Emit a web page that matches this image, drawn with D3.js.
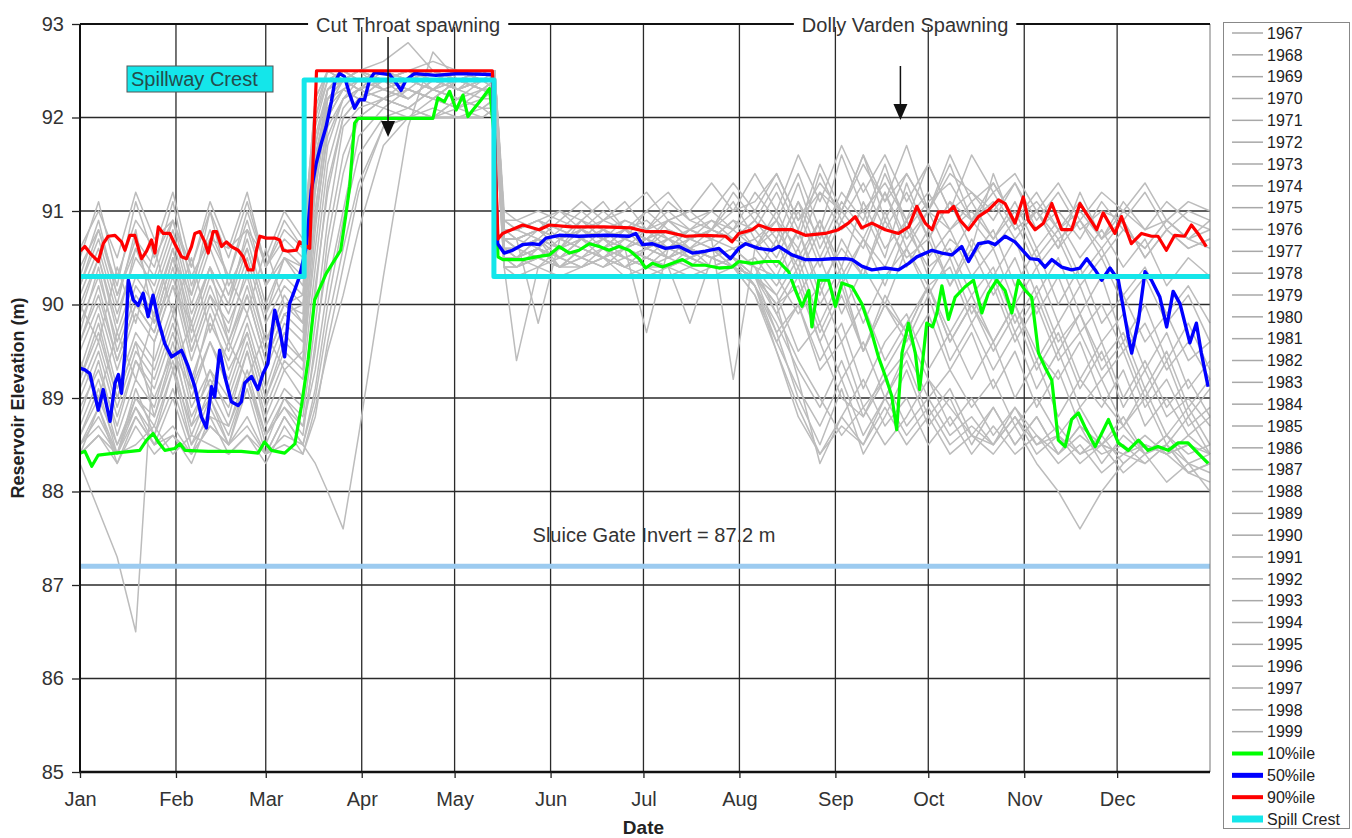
<!DOCTYPE html>
<html>
<head>
<meta charset="UTF-8">
<title>Reservoir Elevation</title>
<script src="https://d3js.org/d3.v7.min.js"></script>
<style>
  body { margin: 0; background: #fff; }
  svg { font-family: Arial, "Liberation Sans", sans-serif; }
  .axis text { font-size: 20px; fill: #333; }
  .axis path { display: none; }
  .axis line { stroke: #222; stroke-width: 1.3; }
  .legend text { font-size: 16px; fill: #222; }
</style>
</head>
<body>
<div id="chart"></div>
<script>

// ---- data ----
const years = [1967, 1968, 1969, 1970, 1971, 1972, 1973, 1974, 1975, 1976, 1977,
  1978, 1979, 1980, 1981, 1982, 1983, 1984, 1985, 1986, 1987, 1988, 1989, 1990,
  1991, 1992, 1993, 1994, 1995, 1996, 1997, 1998, 1999];

// day of year (0 = Jan 1) of the sampled points of every year
const gridDays = [0, 6, 12, 18, 24, 30, 36, 42, 48, 54, 60, 66, 72,
  76, 80, 85, 90, 98, 106, 114, 122, 130, 134,
  137,
  141, 148, 155, 162, 169, 176, 183, 190, 197, 204, 211,
  218, 225, 232, 239, 246, 253, 260, 267, 274, 281, 288,
  295, 302, 309, 316, 323, 330, 337, 344, 351, 358, 365];

// reservoir elevation (m) per year, one value per grid day
const yearLevels = [
  [90.2,90.7,90.0,90.8,89.8,90.5,90.1,91.0,90.2,90.6,89.9,90.5,90.4, 91.4,92.1,92.4,92.3,92.5,92.4,92.3,92.5,92.4,92.4, 90.8, 90.7,90.8,90.6,90.9,90.7,90.8,90.6,90.9,90.7,90.8,91.1, 90.7,90.9,90.6,91.2,90.8,91.0,90.5,91.3,90.7,91.1,90.6, 91.4,90.8,91.0,90.6,91.2,90.7,90.9,90.5,90.8,90.6,90.7],
  [88.3,87.8,87.3,86.5,89.6,90.2,89.8,90.4,89.6,90.1,89.4,89.9,90.0, 90.9,91.8,92.2,92.4,92.3,92.4,92.5,92.3,92.4,92.4, 90.6, 90.5,90.7,90.4,90.6,90.5,90.7,90.6,90.5,90.7,90.6,90.5, 90.4,90.3,89.9,90.2,89.6,90.0,89.4,89.8,90.2,89.7,90.1, 89.6,90.0,89.5,89.2,89.6,89.0,88.7,89.1,88.6,88.9,88.5],
  [88.5,88.9,88.4,89.1,88.6,89.3,88.7,89.0,88.5,89.2,88.6,88.9,88.6, 89.6,90.5,91.4,92.0,92.2,92.1,92.3,92.2,92.4,92.3, 90.5, 90.4,90.6,90.5,90.7,90.6,90.5,90.4,90.6,90.5,90.4,90.5, 90.3,90.1,89.5,89.8,89.2,89.6,89.0,89.5,89.9,89.3,89.7, 89.1,89.5,88.9,89.3,88.7,88.5,88.8,88.4,88.6,88.3,88.4],
  [90.6,91.0,90.5,91.2,90.7,90.9,90.4,91.1,90.6,90.8,90.5,91.0,90.7, 92.0,92.5,92.4,92.5,92.4,92.5,92.5,92.4,92.5,92.5, 90.9, 90.8,90.9,90.7,90.8,91.0,90.8,90.9,90.7,90.8,91.0,90.8, 91.2,90.9,91.4,90.8,91.6,91.0,91.3,90.9,91.5,91.0,91.2, 90.9,91.3,90.8,91.0,90.7,91.1,90.8,90.6,90.9,90.7,90.8],
  [89.2,89.8,89.0,89.6,88.8,89.5,89.1,89.9,89.3,89.7,89.0,89.6,89.4, 90.6,91.7,92.2,92.3,92.4,92.2,92.4,92.3,92.5,92.4, 90.6, 90.6,90.7,90.5,90.7,90.6,90.8,90.6,90.7,90.5,90.6,90.4, 90.5,90.2,90.6,90.0,90.4,89.8,90.3,90.6,90.1,90.5,89.9, 90.3,89.7,90.1,89.5,89.9,89.3,89.6,89.0,89.4,88.8,89.1],
  [88.4,88.6,88.4,88.5,88.7,88.4,88.6,88.5,88.4,88.6,88.4,88.5,88.4, 88.9,89.5,90.1,90.8,91.7,92.0,92.0,92.1,92.0,92.1, 90.4, 90.4,90.5,90.4,90.5,90.4,90.5,90.4,90.4,90.5,90.4,90.4, 90.3,90.0,90.2,89.6,89.0,88.8,89.3,89.7,89.2,88.9,88.6, 88.5,88.8,88.5,88.6,88.4,88.5,88.4,88.5,88.4,88.5,88.3],
  [89.6,90.2,89.4,90.0,89.7,90.4,89.5,90.1,89.8,90.3,89.6,90.0,89.9, 91.8,92.3,92.4,92.5,92.3,92.4,92.5,92.4,92.3,92.4, 90.7, 90.7,90.8,90.7,90.9,90.8,90.7,91.0,90.8,90.7,90.9,90.8, 91.0,90.7,91.3,90.6,91.1,90.8,91.4,90.9,91.2,90.8,91.0, 90.7,91.1,90.6,90.9,90.5,90.8,90.4,90.7,90.2,90.5,90.3],
  [88.8,89.4,88.6,89.2,88.9,89.6,88.7,89.3,88.8,89.5,88.7,89.1,88.9, 90.2,91.2,92.0,92.2,92.3,92.2,92.4,92.3,92.2,92.3, 90.6, 90.5,90.6,90.5,90.7,90.6,90.5,90.6,90.5,90.6,90.4,90.5, 90.2,89.6,90.0,89.4,89.8,89.1,89.6,89.9,89.3,89.7,89.2, 89.6,89.0,89.4,88.8,89.2,88.9,89.3,88.7,89.0,88.6,88.8],
  [90.0,90.5,89.8,90.6,90.1,90.7,89.9,90.4,90.0,90.8,90.2,90.5,90.3, 91.9,92.4,92.5,92.4,92.5,92.5,92.4,92.5,92.5,92.4, 90.8, 90.8,90.9,90.8,90.7,90.9,90.8,90.7,90.9,90.8,90.9,90.7, 90.9,90.6,91.1,90.7,91.2,90.9,91.5,90.8,91.1,91.3,90.9, 91.1,90.7,91.0,90.6,90.9,90.5,90.8,90.6,90.9,90.7,90.6],
  [89.4,89.0,89.7,89.2,89.9,89.3,89.8,89.1,89.6,89.2,89.7,89.3,89.5, 91.0,92.0,92.3,92.2,92.4,92.3,92.2,92.4,92.3,92.3, 90.7, 90.6,90.7,90.6,90.8,90.7,90.6,90.7,90.6,90.8,90.7,90.6, 90.7,90.4,90.8,90.2,90.6,90.3,90.9,90.5,90.7,90.2,90.6, 90.1,90.5,89.9,90.3,89.7,90.0,89.5,89.8,89.3,89.6,89.2],
  [88.6,89.0,88.5,88.9,88.6,89.1,88.5,88.8,88.7,89.2,88.6,88.9,88.7, 89.3,90.2,91.0,91.8,92.1,92.0,92.2,92.1,92.2,92.2, 90.5, 90.5,90.6,90.4,90.6,90.5,90.6,90.5,90.4,90.6,90.5,90.4, 90.3,89.7,90.0,89.3,89.6,88.9,89.2,88.7,89.0,88.6,88.8, 88.5,88.9,88.6,88.4,88.7,88.5,88.4,88.6,88.4,88.5,88.4],
  [90.3,90.9,90.1,90.7,90.4,91.1,90.2,90.8,90.3,91.0,90.4,90.7,90.5, 92.1,92.5,92.4,92.5,92.5,92.4,92.5,92.5,92.5,92.5, 90.9, 90.8,90.9,91.0,90.8,90.9,91.1,90.8,90.9,91.0,90.8,91.2, 90.9,91.3,90.8,91.5,91.0,91.6,90.9,91.4,91.0,91.6,91.1, 91.3,90.9,91.2,90.8,91.1,90.7,91.0,90.8,91.1,90.9,90.8],
  [89.0,89.5,88.8,89.4,89.1,89.7,88.9,89.3,89.0,89.6,88.9,89.4,89.2, 90.4,91.5,92.1,92.3,92.2,92.3,92.2,92.4,92.3,92.3, 90.6, 90.6,90.5,90.7,90.6,90.5,90.6,90.7,90.5,90.6,90.5,90.6, 90.4,89.9,90.3,89.6,90.1,89.5,90.0,89.7,90.2,89.6,90.0, 89.5,89.9,89.3,89.7,89.1,89.5,88.9,89.3,88.8,89.0,88.7],
  [89.8,90.3,89.6,90.2,89.9,90.6,89.7,90.3,89.9,90.5,89.8,90.2,90.0, 91.6,92.2,92.4,92.3,92.5,92.4,92.3,92.5,92.4,92.4, 90.7, 90.7,90.6,90.8,90.7,90.6,90.8,90.7,90.6,90.8,90.7,90.9, 90.6,91.0,90.5,90.9,90.4,91.1,90.6,90.9,90.3,90.7,90.5, 90.8,90.2,90.6,90.0,90.4,89.8,90.1,89.6,89.9,89.4,89.6],
  [88.5,88.7,88.4,88.8,88.5,88.6,88.4,88.7,88.5,88.8,88.4,88.6,88.5, 88.3,88.0,87.6,88.6,90.3,91.9,92.7,92.4,92.3,92.4, 90.5, 90.5,90.4,90.6,90.5,90.4,90.6,90.5,90.4,90.5,90.6,90.4, 90.2,89.8,89.3,88.9,89.4,88.8,89.2,89.5,89.0,89.3,88.9, 89.2,88.7,89.0,88.6,88.9,88.5,88.7,88.4,88.6,88.4,88.5],
  [90.4,90.8,90.2,91.1,90.5,90.9,90.3,90.7,90.6,91.2,90.4,90.8,90.6, 92.2,92.5,92.5,92.5,92.4,92.5,92.5,92.5,92.4,92.5, 91.0, 90.9,90.8,91.0,90.9,91.1,90.8,91.0,91.2,90.9,91.0,91.3, 91.0,91.4,90.9,91.2,91.0,91.5,91.1,91.7,91.0,91.4,91.2, 91.0,91.3,90.9,91.2,90.8,91.0,90.9,91.2,90.8,91.0,90.9],
  [89.3,89.9,89.1,89.7,89.4,90.0,89.2,89.8,89.4,89.9,89.3,89.8,89.6, 91.2,92.1,92.3,92.4,92.3,92.2,92.4,92.3,92.4,92.3, 90.6, 90.6,90.7,90.5,90.6,90.7,90.5,90.6,90.7,90.5,90.6,90.5, 90.3,90.7,90.1,90.5,89.9,90.4,90.0,90.6,90.2,90.4,89.8, 90.2,89.6,90.0,89.4,89.7,89.2,89.5,88.9,89.2,88.7,88.9],
  [88.7,89.2,88.5,89.0,88.8,89.4,88.6,89.1,88.7,89.3,88.6,89.0,88.8, 89.8,90.9,91.9,92.1,92.2,92.1,92.3,92.2,92.1,92.2, 90.5, 90.5,90.6,90.5,90.4,90.6,90.5,90.4,90.5,90.6,90.5,90.4, 90.1,89.6,89.1,88.7,89.2,88.6,89.0,89.4,88.8,89.1,88.6, 88.9,88.5,88.8,88.4,88.6,88.4,88.5,88.3,88.5,88.2,88.3],
  [90.1,90.6,89.9,90.5,90.2,90.8,90.0,90.6,90.1,90.7,90.0,90.5,90.2, 91.7,92.3,92.5,92.4,92.5,92.5,92.5,92.4,92.5,92.5, 90.8, 90.8,90.7,90.9,90.8,90.7,90.9,90.8,91.0,90.8,90.7,90.9, 90.8,91.2,90.7,91.4,90.9,91.3,90.8,91.2,90.7,91.1,90.9, 91.2,90.8,91.0,90.7,90.9,90.6,90.9,90.5,90.8,90.6,90.7],
  [89.5,90.0,89.3,89.9,89.6,90.2,89.4,90.0,89.5,90.1,89.4,89.9,89.7, 91.3,92.2,92.4,92.3,92.4,92.5,92.3,92.4,92.5,92.4, 90.7, 90.6,90.8,90.7,90.6,90.8,90.7,90.6,90.8,90.7,90.6,90.8, 90.6,90.9,90.3,90.8,90.2,90.7,90.4,90.9,90.5,90.8,90.3, 90.6,90.0,90.4,89.8,90.2,89.6,89.9,89.3,89.7,89.1,89.4],
  [88.4,88.9,88.3,88.8,88.5,89.0,88.4,88.7,88.5,89.1,88.4,88.8,88.5, 89.1,90.0,90.9,91.6,92.0,92.1,92.0,92.2,92.1,92.2, 90.4, 89.4,90.4,90.5,90.4,90.5,90.4,90.5,90.4,90.3,90.4,90.5, 90.2,89.5,88.9,88.4,88.8,89.2,88.7,89.0,88.5,88.8,88.4, 88.7,88.4,88.6,88.3,88.5,88.2,88.4,88.3,88.5,88.2,88.1],
  [90.0,89.6,90.4,89.8,90.6,89.9,90.5,89.7,90.3,89.9,90.6,90.0,90.1, 91.5,92.3,92.4,92.5,92.4,92.3,92.5,92.4,92.3,92.4, 90.8, 90.7,89.8,90.7,90.8,90.6,90.7,90.8,90.6,90.7,90.8,90.7, 90.9,90.6,91.1,90.5,91.0,90.7,91.2,90.6,91.0,90.8,91.1, 90.7,91.0,90.5,90.8,90.3,90.6,90.1,90.4,89.9,90.2,89.8],
  [89.1,89.6,88.9,89.5,89.2,89.8,89.0,89.6,89.1,89.7,89.0,89.5,89.3, 90.8,91.9,92.2,92.3,92.2,92.4,92.3,92.2,92.3,92.3, 90.6, 90.6,90.5,90.6,90.7,90.5,90.6,89.7,90.6,90.5,90.6,90.5, 90.3,90.0,90.4,89.7,90.2,89.5,90.0,89.6,90.1,89.4,89.8, 89.3,89.7,89.1,89.5,88.9,89.2,88.7,89.0,88.5,88.8,88.4],
  [90.5,91.1,90.3,90.9,90.6,91.2,90.4,91.0,90.5,91.1,90.4,90.9,90.6, 92.2,92.5,92.5,92.5,92.6,92.8,92.5,92.5,92.5,92.5, 90.9, 90.9,91.0,90.9,91.1,90.9,91.0,91.2,90.9,91.0,91.3,91.0, 91.4,91.0,91.6,91.1,91.7,91.2,91.6,91.1,91.5,91.0,91.6, 91.2,91.4,91.0,91.3,90.9,91.2,91.0,91.3,90.9,91.1,91.0],
  [88.6,89.1,88.4,89.0,88.7,89.3,88.5,89.0,88.6,89.2,88.5,89.0,88.7, 89.5,90.7,91.6,92.0,92.2,92.1,92.0,92.2,92.1,92.1, 90.5, 90.4,90.5,90.4,90.5,90.6,90.4,90.5,90.4,89.8,90.5,90.4, 90.3,89.9,89.4,89.0,88.6,88.9,88.5,88.8,89.2,88.7,89.0, 88.6,88.9,88.5,88.7,88.4,88.6,88.3,88.5,88.4,88.2,88.3],
  [89.7,90.4,89.5,90.1,89.8,90.5,89.6,90.2,89.7,90.4,89.6,90.1,89.8, 91.5,92.2,92.3,92.4,92.5,92.4,92.3,92.4,92.5,92.4, 90.7, 90.7,90.8,90.6,90.7,90.8,90.6,90.7,90.8,90.6,90.7,89.2, 90.6,90.8,90.4,90.9,90.3,90.7,90.2,90.8,90.4,90.6,90.1, 90.4,89.8,90.2,89.6,89.9,89.4,89.7,89.1,89.5,88.9,89.2],
  [88.5,88.8,88.4,88.9,88.5,88.7,88.4,88.9,88.5,88.7,88.4,88.8,88.5, 89.0,89.8,90.6,91.3,91.9,92.0,92.0,92.0,92.1,92.0, 90.4, 90.4,90.5,90.4,90.4,90.5,90.4,90.3,90.4,90.5,90.4,90.4, 90.3,90.0,89.2,88.3,88.8,88.5,88.9,88.5,88.8,88.4,88.6, 88.4,88.7,88.3,88.0,87.6,88.0,88.3,88.5,88.4,88.6,88.4],
  [90.2,90.8,90.1,90.6,90.3,90.9,90.1,90.7,90.3,90.9,90.2,90.6,90.4, 92.0,92.4,92.5,92.4,92.5,92.5,92.6,92.5,92.4,92.5, 90.8, 90.8,90.9,90.8,91.0,90.8,90.9,90.8,91.1,90.9,90.8,91.0, 91.1,91.4,90.9,91.3,91.0,91.6,91.1,91.4,91.0,91.5,90.9, 91.3,90.9,91.1,90.8,91.0,90.7,91.1,90.8,90.9,90.7,90.9],
  [89.2,89.7,89.0,89.6,89.3,89.9,89.1,89.6,89.2,89.8,89.1,89.7,89.4, 91.0,92.0,92.3,92.2,92.4,92.3,92.2,92.4,92.3,92.3, 90.6, 90.5,90.7,90.6,90.5,90.7,90.6,90.5,90.7,90.6,90.5,90.6, 90.4,90.1,90.5,89.8,90.3,89.5,90.1,89.7,90.2,89.6,90.0, 89.6,90.0,89.4,89.8,89.2,89.6,89.0,89.4,88.9,89.2,88.8],
  [88.9,89.3,88.7,89.4,89.0,89.5,88.8,89.2,88.9,89.5,88.8,89.3,89.0, 90.1,91.3,92.0,92.2,92.1,92.3,92.2,92.1,92.3,92.2, 90.5, 90.5,90.6,90.4,90.6,90.5,90.4,90.6,90.5,90.4,90.6,90.5, 90.2,89.7,89.0,88.5,89.1,88.4,88.8,89.3,88.7,89.0,88.5, 88.9,88.5,88.8,88.4,88.7,88.3,88.6,88.4,88.5,88.3,88.2],
  [89.9,90.5,89.7,90.3,90.0,90.6,89.8,90.4,90.0,90.6,89.9,90.3,90.1, 91.7,92.3,92.4,92.5,92.4,92.5,92.4,92.3,92.4,92.4, 90.7, 90.7,90.8,90.7,90.9,90.7,90.8,90.7,90.9,90.7,90.8,90.7, 90.8,90.5,91.0,90.4,90.9,90.6,91.2,90.7,91.0,90.5,90.9, 90.6,90.9,90.4,90.7,90.2,90.5,90.0,90.3,89.8,90.1,89.6],
  [88.4,88.6,88.3,88.7,88.4,88.6,88.3,88.8,88.4,88.6,88.3,88.7,88.4, 88.8,89.6,90.4,91.2,91.9,92.0,92.1,92.0,92.0,92.1, 90.4, 90.3,90.4,90.3,90.4,90.5,90.3,90.4,90.3,90.4,90.3,90.4, 90.1,89.5,88.8,88.4,88.7,88.5,89.0,88.6,88.9,88.5,88.7, 88.5,88.8,88.4,88.6,88.3,88.5,88.2,88.4,88.1,88.3,88.0],
  [89.6,90.1,89.4,90.0,89.7,90.3,89.5,90.1,89.6,90.2,89.5,90.0,89.8, 91.4,92.2,92.4,92.3,92.4,92.5,92.4,92.3,92.4,92.4, 90.7, 90.6,90.7,90.6,90.8,90.7,90.6,90.8,90.7,90.6,90.8,90.7, 90.6,90.3,90.8,90.1,90.7,90.3,91.0,90.4,90.8,90.2,90.7, 90.3,90.7,90.1,90.5,89.9,90.3,89.6,90.0,89.4,89.8,89.3]
];

// percentile series: [day of year, elevation m]
const p10 = [[0,88.41],[1.6,88.43],[3.8,88.27],[5.9,88.39],[11.3,88.41],[19.3,88.44],[21.5,88.55],[23.6,88.62],[25.3,88.53],[27.4,88.44],[30.6,88.46],[32.3,88.51],[33.9,88.44],[41.4,88.43],[52.1,88.43],[57.5,88.41],[59.6,88.53],[61.8,88.44],[66.1,88.41],[69.4,88.51],[71.5,88.91],[73.7,89.41],[75.8,90.05],[79.5,90.33],[84.2,90.58],[85.8,90.94],[87.1,91.26],[88.7,91.94],[89.8,91.99],[114,91.99],[115.6,92.21],[117.7,92.17],[119.4,92.28],[121.5,92.08],[123.7,92.24],[125.3,92.01],[126.9,92.08],[129.6,92.19],[132.3,92.31],[133.9,91.76],[135,90.51],[136.6,90.48],[143,90.48],[147.3,90.51],[151.6,90.53],[154.8,90.62],[158.1,90.55],[161.2,90.58],[164.5,90.65],[167.7,90.62],[170.9,90.58],[174.1,90.62],[177.4,90.58],[180.6,90.49],[182.7,90.39],[184.9,90.44],[188.1,90.4],[194.6,90.48],[197.8,90.42],[202,90.42],[206.4,90.39],[210.6,90.4],[212.8,90.46],[217.1,90.44],[221.4,90.46],[225.7,90.46],[228.9,90.35],[231.1,90.15],[233.2,89.98],[235.4,90.15],[236.4,89.76],[238.6,90.26],[241.8,90.26],[244,89.98],[246.1,90.23],[249.4,90.19],[252.5,90.01],[255.8,89.69],[257.9,89.44],[260.6,89.19],[262.2,89.02],[263.8,88.66],[265.5,89.48],[267.6,89.8],[269.8,89.48],[271.2,89.09],[273.5,89.8],[275.4,89.76],[276.8,89.91],[278.4,90.2],[280.5,89.84],[282.7,90.08],[285.9,90.19],[288.6,90.26],[291.3,89.91],[293.4,90.12],[296.1,90.26],[298.8,90.15],[301,89.91],[303.1,90.26],[305.3,90.15],[307.4,90.08],[309.6,89.48],[311.7,89.33],[313.9,89.19],[316,88.55],[318.2,88.48],[320.3,88.77],[322.5,88.84],[324.6,88.69],[327.9,88.48],[332.2,88.77],[335.4,88.52],[338.6,88.44],[341.9,88.55],[345,88.44],[348.2,88.48],[351.5,88.44],[354.7,88.52],[357.9,88.52],[361.1,88.41],[364.4,88.3]];

const p50 = [[0,89.32],[1.6,89.3],[3.2,89.26],[5.9,88.87],[7.5,89.09],[9.7,88.75],[11.3,89.16],[12.4,89.25],[13.4,89.05],[14.5,89.48],[15.6,90.26],[17.2,90.05],[18.8,89.99],[20.4,90.12],[22,89.87],[23.6,90.1],[25.3,89.83],[27.4,89.58],[29.6,89.44],[32.8,89.51],[34.9,89.34],[37.1,89.12],[39.2,88.8],[40.8,88.68],[42.5,89.12],[43.5,89.01],[45.1,89.51],[46.8,89.23],[48.9,88.96],[51.1,88.92],[52.1,88.96],[53.2,89.16],[55.4,89.23],[57.5,89.09],[59.1,89.26],[60.7,89.37],[62.9,89.94],[64.5,89.73],[66.1,89.44],[67.7,90.01],[69.4,90.16],[70.9,90.3],[73.1,90.62],[74.7,91.22],[76.3,91.51],[77.9,91.72],[79.5,91.9],[81.2,92.17],[82.2,92.37],[83.8,92.47],[85.4,92.44],[87,92.26],[88.7,92.1],[90.3,92.19],[91.9,92.19],[93.5,92.4],[95.1,92.48],[100,92.46],[102.1,92.37],[103.7,92.29],[105.3,92.4],[108,92.47],[115,92.45],[122,92.47],[133.2,92.46],[134.9,90.65],[137,90.55],[139.7,90.58],[142.9,90.64],[146.2,90.65],[148.3,90.64],[150.5,90.71],[154.8,90.74],[161.2,90.73],[169.8,90.74],[177.4,90.73],[179.5,90.76],[181.7,90.64],[184.9,90.65],[189.1,90.6],[193.5,90.62],[197.8,90.55],[202,90.57],[206.4,90.6],[210.1,90.49],[212.8,90.6],[215,90.65],[219.2,90.6],[223.5,90.58],[225.7,90.62],[230,90.53],[234.3,90.48],[238.6,90.48],[242.9,90.49],[247.2,90.49],[249.4,90.48],[252.5,90.41],[255.8,90.37],[260.1,90.39],[264.4,90.37],[267.7,90.44],[270.3,90.51],[275.2,90.58],[278.4,90.55],[281.6,90.53],[284.8,90.62],[287,90.46],[290.2,90.65],[293.4,90.67],[295.6,90.64],[298.8,90.73],[302,90.67],[304.7,90.57],[306.9,90.49],[309.6,90.48],[311.7,90.4],[313.9,90.48],[317.1,90.4],[320.3,90.37],[323,90.39],[325.2,90.49],[327.9,90.37],[330,90.26],[332.7,90.39],[335.4,90.26],[338.6,89.66],[339.7,89.48],[341.9,89.83],[344,90.35],[346.1,90.26],[348.8,90.08],[351,89.76],[353.1,90.14],[355.3,90.01],[358.5,89.59],[360.6,89.8],[362.2,89.48],[364.4,89.12]];

const p90 = [[0,90.57],[1.6,90.62],[3.2,90.55],[5.9,90.46],[7.5,90.65],[9.1,90.73],[11.3,90.74],[13.4,90.67],[14.5,90.58],[16.1,90.74],[17.7,90.74],[19.3,90.55],[19.9,90.49],[21.5,90.57],[23.1,90.69],[24.2,90.55],[25.3,90.83],[26.9,90.76],[29,90.76],[30.6,90.65],[32.8,90.51],[34.4,90.49],[36,90.62],[37.1,90.76],[38.7,90.78],[40.3,90.67],[41.4,90.55],[43,90.78],[44.1,90.78],[45.7,90.62],[47.3,90.67],[48.9,90.62],[51.1,90.58],[52.7,90.51],[54.3,90.37],[55.9,90.37],[57,90.58],[58.1,90.73],[60.2,90.71],[62.9,90.71],[64.5,90.69],[65.6,90.58],[67.2,90.57],[69.9,90.58],[70.9,90.67],[74.2,90.6],[76.4,92.5],[133.2,92.5],[135,90.7],[136.5,90.76],[143,90.85],[148.3,90.8],[151.6,90.85],[158.6,90.83],[169.3,90.83],[177.9,90.82],[182.7,90.78],[189.1,90.78],[195.6,90.73],[202,90.74],[208.5,90.73],[210.6,90.67],[212.8,90.76],[217.1,90.8],[219.2,90.85],[223.5,90.8],[230,90.8],[234.3,90.74],[240.7,90.76],[245,90.8],[248.2,90.87],[250.4,90.94],[252.5,90.82],[255.8,90.87],[260.1,90.8],[264.4,90.76],[267.7,90.83],[270.3,91.05],[273,90.87],[275.2,90.8],[277.3,90.99],[280.5,90.99],[282.2,91.05],[284.3,90.9],[287,90.8],[290.2,90.94],[293.4,91.01],[296.7,91.12],[298.8,91.08],[302,90.87],[304.7,91.15],[306.3,90.9],[308.5,90.8],[311.2,90.87],[313.9,91.08],[317.1,90.8],[320.3,90.8],[323,91.08],[325.7,90.94],[328.4,90.8],[330.5,90.98],[334.3,90.76],[336.4,90.94],[339.6,90.65],[342.9,90.76],[346.1,90.73],[348.2,90.73],[350.9,90.58],[353.6,90.74],[356.8,90.73],[359,90.85],[361.1,90.76],[363.8,90.62]];

const spillCrest = [[0,90.3],[72.4,90.3],[72.4,92.4],[133.7,92.4],[133.7,90.3],[365,90.3]];
const sluiceGate = 87.2;
const yTicks = [85, 86, 87, 88, 89, 90, 91, 92, 93];

// spawning periods: label centre day and arrow day
const spawning = [
  { label: "Cut Throat spawning", labelDay: 106, arrowDay: 99.5, top: 37, tip: 137 },
  { label: "Dolly Varden Spawning", labelDay: 266.5, arrowDay: 265, top: 66, tip: 120 }
];

// ---- layout ----
const width = 1352, height = 838;
const margin = { top: 24, right: 142, bottom: 66, left: 80 };
const plotRight = width - margin.right;   // 1210
const plotBottom = height - margin.bottom; // 772

const svg = d3.select("#chart").append("svg")
  .attr("width", width).attr("height", height);
svg.append("rect").attr("width", width).attr("height", height).attr("fill", "#fff");

const t0 = Date.UTC(2000, 0, 1);
const dayToDate = d => new Date(t0 + d * 864e5);

const x = d3.scaleUtc()
  .domain([dayToDate(0), dayToDate(365)])
  .range([margin.left, plotRight]);
const y = d3.scaleLinear().domain([85, 93]).range([plotBottom, margin.top]);

const line = d3.line().x(d => x(dayToDate(d[0]))).y(d => y(d[1]));

// gridlines
const months = d3.utcMonth.range(dayToDate(0), dayToDate(365));
svg.append("g").selectAll("line").data(yTicks.slice(1, -1)).join("line")
  .attr("x1", margin.left).attr("x2", plotRight)
  .attr("y1", d => y(d)).attr("y2", d => y(d))
  .attr("stroke", "#2a2a2a").attr("stroke-width", 1.3);
svg.append("g").selectAll("line").data(months.slice(1)).join("line")
  .attr("x1", d => x(d)).attr("x2", d => x(d))
  .attr("y1", margin.top).attr("y2", plotBottom)
  .attr("stroke", "#2a2a2a").attr("stroke-width", 1.3);

// yearly traces
svg.append("g").selectAll("path").data(yearLevels).join("path")
  .attr("d", row => line(row.map((v, i) => [gridDays[i], v])))
  .attr("fill", "none").attr("stroke", "#bcbcbc").attr("stroke-width", 1.5)
  .attr("stroke-linejoin", "round");

// sluice gate invert
svg.append("line")
  .attr("x1", margin.left).attr("x2", plotRight)
  .attr("y1", y(sluiceGate)).attr("y2", y(sluiceGate))
  .attr("stroke", "#9ccbf0").attr("stroke-width", 5);

// percentiles + spill crest
const series = [
  { data: p10, color: "#00ff00", w: 3.2 },
  { data: p50, color: "#0000ff", w: 3.4 },
  { data: p90, color: "#ff0000", w: 3.2 },
  { data: spillCrest, color: "#14e6ea", w: 5 }
];
svg.append("g").selectAll("path").data(series).join("path")
  .attr("d", s => line(s.data))
  .attr("fill", "none")
  .attr("stroke", s => s.color)
  .attr("stroke-width", s => s.w)
  .attr("stroke-linejoin", "round");

// frame
svg.append("line").attr("x1", plotRight).attr("x2", plotRight)
  .attr("y1", margin.top).attr("y2", plotBottom).attr("stroke", "#777").attr("stroke-width", 1);
svg.append("line").attr("x1", margin.left).attr("x2", plotRight)
  .attr("y1", margin.top).attr("y2", margin.top).attr("stroke", "#111").attr("stroke-width", 2);
svg.append("line").attr("x1", margin.left).attr("x2", margin.left)
  .attr("y1", margin.top).attr("y2", plotBottom).attr("stroke", "#111").attr("stroke-width", 2);
svg.append("line").attr("x1", margin.left - 1).attr("x2", plotRight)
  .attr("y1", plotBottom).attr("y2", plotBottom).attr("stroke", "#111").attr("stroke-width", 2.5);

// axes
svg.append("g").attr("class", "axis")
  .attr("transform", `translate(0,${plotBottom})`)
  .call(d3.axisBottom(x).ticks(d3.utcMonth.every(1)).tickFormat(d3.utcFormat("%b"))
    .tickSize(6).tickPadding(14));
svg.append("g").attr("class", "axis")
  .attr("transform", `translate(${margin.left},0)`)
  .call(d3.axisLeft(y).tickValues(yTicks).tickFormat(d3.format("d"))
    .tickSize(8).tickPadding(8));

svg.append("text")
  .attr("x", x(dayToDate(182))).attr("y", 834)
  .attr("text-anchor", "middle")
  .style("font-size", "19px").style("font-weight", "bold").attr("fill", "#222")
  .text("Date");
svg.append("text")
  .attr("transform", `translate(24,${y(89)}) rotate(-90)`)
  .attr("text-anchor", "middle")
  .style("font-size", "18px").style("font-weight", "bold").attr("fill", "#222")
  .text("Reservoir Elevation (m)");

// spawning annotations
spawning.forEach(s => {
  const g = svg.append("g");
  const bg = g.append("rect").attr("fill", "#fff");
  const t = g.append("text")
    .attr("x", x(dayToDate(s.labelDay))).attr("y", margin.top + 8)
    .attr("text-anchor", "middle")
    .style("font-size", "20px").attr("fill", "#333")
    .text(s.label);
  const b = t.node().getBBox();
  bg.attr("x", b.x - 8).attr("y", margin.top - 3).attr("width", b.width + 16).attr("height", 6);

  const ax = x(dayToDate(s.arrowDay));
  g.append("line").attr("x1", ax).attr("x2", ax)
    .attr("y1", s.top).attr("y2", s.tip - 12)
    .attr("stroke", "#111").attr("stroke-width", 1.5);
  g.append("path")
    .attr("d", `M${ax - 7},${s.tip - 16}L${ax + 7},${s.tip - 16}L${ax},${s.tip}Z`)
    .attr("fill", "#111");
});

// spillway crest label
const sc = svg.append("g").attr("transform", "translate(127,66)");
sc.append("rect").attr("width", 146).attr("height", 26)
  .attr("fill", "#14e6ea").attr("stroke", "#555").attr("stroke-width", 1);
sc.append("text").attr("x", 4).attr("y", 20)
  .style("font-size", "20px").attr("fill", "#244c4c")
  .text("Spillway Crest");

// sluice gate label
svg.append("text")
  .attr("x", 654).attr("y", 542)
  .attr("text-anchor", "middle")
  .style("font-size", "20px").attr("fill", "#333")
  .text(`Sluice Gate Invert = ${sluiceGate} m`);

// legend
const legendItems = years.map(yr => ({ label: String(yr), color: "#a8a8a8", w: 1.5 }))
  .concat([
    { label: "10%ile", color: "#00ff00", w: 4 },
    { label: "50%ile", color: "#0000ff", w: 5 },
    { label: "90%ile", color: "#ff0000", w: 4 },
    { label: "Spill Crest", color: "#14e6ea", w: 7 }
  ]);
const legend = svg.append("g").attr("class", "legend");
legend.append("rect")
  .attr("x", 1223.5).attr("y", 22.5).attr("width", 126).attr("height", 806)
  .attr("fill", "#fff").attr("stroke", "#888");
const ly = d3.scalePoint().domain(d3.range(legendItems.length)).range([33, 819]);
const items = legend.selectAll("g.item").data(legendItems).join("g")
  .attr("class", "item")
  .attr("transform", (d, i) => `translate(0,${ly(i)})`);
items.append("line").attr("x1", 1232).attr("x2", 1263)
  .attr("stroke", d => d.color).attr("stroke-width", d => d.w);
items.append("text").attr("x", 1267).attr("dy", "0.36em")
  .text(d => d.label);

</script>
</body>
</html>
